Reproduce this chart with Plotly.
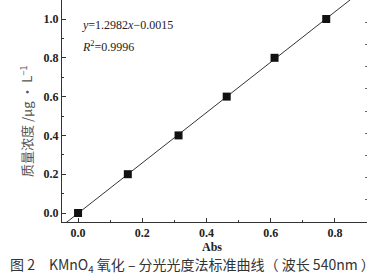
import plotly.graph_objects as go

abs_vals = [0.0, 0.155, 0.313, 0.463, 0.612, 0.773]
conc_vals = [0.0, 0.2, 0.4, 0.6, 0.8, 1.0]
slope = 1.2982
intercept = -0.0015
fit_x = [-0.05, 0.9]
fit_y = [slope * v + intercept for v in fit_x]

serif = "Liberation Serif, Times New Roman, serif"
fig = go.Figure()
fig.add_trace(go.Scatter(x=fit_x, y=fit_y, mode="lines",
                         line=dict(color="#333333", width=1), showlegend=False))
fig.add_trace(go.Scatter(x=abs_vals, y=conc_vals, mode="markers",
                         marker=dict(symbol="square", size=8, color="#111111"),
                         showlegend=False))
# invisible trace for the right-hand tick axis
fig.add_trace(go.Scatter(x=[0], y=[0], yaxis="y2", mode="markers",
                         marker=dict(opacity=0), showlegend=False, hoverinfo="skip"))

axis_font = dict(family=serif, size=12, color="#222222")
fig.update_layout(
    width=385, height=277,
    margin=dict(l=62, r=18, t=0, b=55),
    paper_bgcolor="white", plot_bgcolor="white",
    xaxis=dict(range=[-0.05, 0.9], dtick=0.2, tick0=0, tickformat=".1f",
               ticks="inside", ticklen=4, tickcolor="#333333",
               showline=True, linecolor="#333333", linewidth=1,
               showgrid=False, zeroline=False,
               tickfont=dict(family=serif, size=12, color="#222222", weight="bold"),
               minor=dict(ticks="inside", ticklen=2, dtick=0.1, tick0=0, tickcolor="#333333")),
    yaxis=dict(range=[-0.0464, 1.098], dtick=0.2, tick0=0, tickformat=".1f",
               ticks="inside", ticklen=4, tickcolor="#333333",
               showline=True, linecolor="#333333", linewidth=1,
               showgrid=False, zeroline=False,
               tickfont=dict(family=serif, size=12, color="#222222", weight="bold"),
               minor=dict(ticks="inside", ticklen=2, dtick=0.1, tick0=0, tickcolor="#333333")),
    yaxis2=dict(overlaying="y", side="right", range=[0, 10], dtick=1,
                ticks="inside", ticklen=2, tickcolor="#666666",
                showticklabels=False, showline=False, showgrid=False, zeroline=False),
)

fig.add_annotation(xref="paper", yref="paper", x=(26 - 62) / 305, y=(222 - 121) / 222,
                   xanchor="center", yanchor="middle",
                   text="质量浓度 /μg · L<sup>−1</sup>", textangle=-90, showarrow=False,
                   font=dict(family="Noto Sans CJK SC", size=13, color="#555555"))
fig.add_annotation(xref="paper", yref="paper", x=(212 - 62) / 305, y=(222 - 247) / 222,
                   xanchor="center", yanchor="middle",
                   text="<b>Abs</b>", showarrow=False, font=axis_font)
fig.add_annotation(xref="paper", yref="paper", x=(80 - 62) / 305, y=(222 - 25) / 222,
                   xanchor="left", yanchor="middle",
                   text="<i>y</i>=1.2982<i>x</i>−0.0015", showarrow=False,
                   font=dict(family=serif, size=12, color="#222222"))
fig.add_annotation(xref="paper", yref="paper", x=(80 - 62) / 305, y=(222 - 47) / 222,
                   xanchor="left", yanchor="middle",
                   text="<i>R</i><sup>2</sup>=0.9996", showarrow=False,
                   font=dict(family=serif, size=12, color="#222222"))
fig.add_annotation(xref="paper", yref="paper", x=(192 - 62) / 305, y=(222 - 265) / 222,
                   xanchor="center", yanchor="middle",
                   text="图 2　KMnO<sub>4</sub> 氧化 – 分光光度法标准曲线（ 波长 540nm ）",
                   showarrow=False,
                   font=dict(family="Noto Sans CJK SC", size=14, color="#333333"))

fig.write_html("out.html")
